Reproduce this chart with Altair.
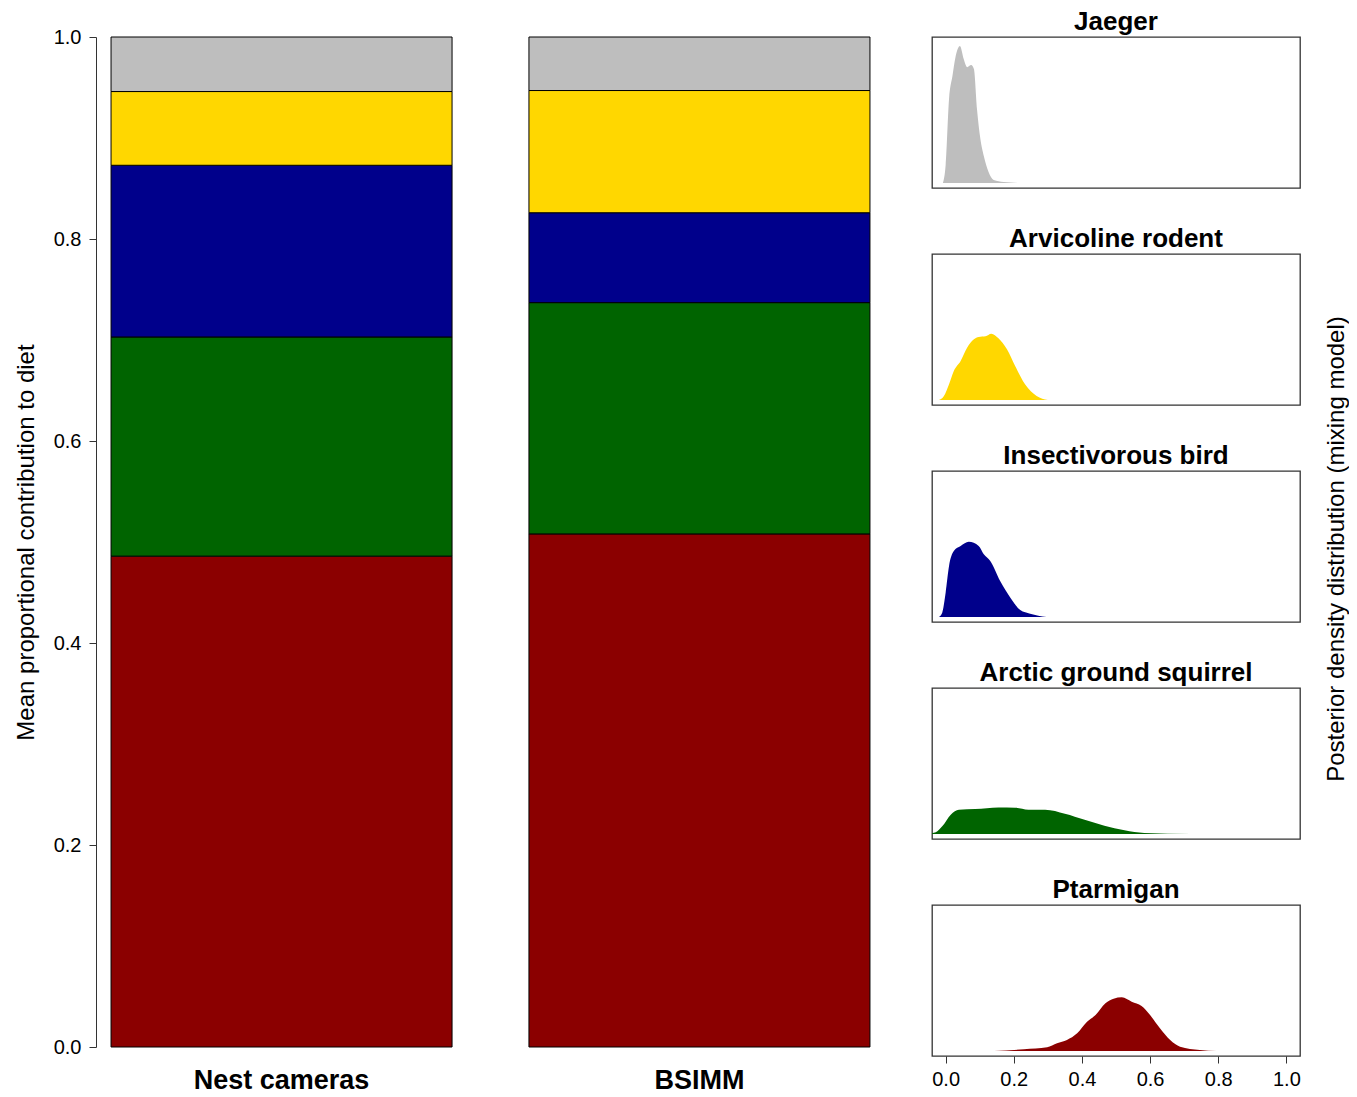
import altair as alt
import pandas as pd

# ---- stacked bars: mean proportional contribution to diet ----
sources = ["Nest cameras", "BSIMM"]
prey = ["Ptarmigan", "Arctic ground squirrel", "Insectivorous bird", "Arvicoline rodent", "Jaeger"]
prey_colors = ["#8B0000", "#006400", "#00008B", "#FFD700", "#BEBEBE"]
nest_cameras = [0.486, 0.217, 0.170, 0.073, 0.054]
bsimm = [0.508, 0.229, 0.089, 0.121, 0.053]

# ---- posterior densities (mixing model) ----
jaeger_x = [-0.008, 0.0, 0.01, 0.02, 0.029, 0.042, 0.053, 0.063, 0.075, 0.083, 0.092, 0.102, 0.112, 0.126, 0.141, 0.17, 0.22]
jaeger_d = [0, 1.43, 6.77, 8.63, 10.16, 11.05, 10.0, 9.35, 9.52, 9.19, 5.97, 3.55, 2.18, 0.89, 0.24, 0.08, 0]
arvic_x = [-0.02, -0.005, 0.01, 0.024, 0.044, 0.063, 0.083, 0.097, 0.117, 0.134, 0.155, 0.18, 0.204, 0.233, 0.267, 0.30]
arvic_d = [0, 0.32, 1.27, 2.34, 3.15, 4.22, 4.90, 5.08, 5.14, 5.35, 4.98, 4.09, 2.74, 1.27, 0.32, 0]
insect_x = [-0.02, -0.01, 0.0, 0.01, 0.024, 0.044, 0.068, 0.097, 0.112, 0.131, 0.16, 0.19, 0.219, 0.248, 0.296]
insect_d = [0, 0.35, 1.96, 4.11, 5.32, 5.73, 6.07, 5.73, 5.06, 4.52, 2.90, 1.56, 0.56, 0.27, 0]
squir_x = [-0.058, -0.029, -0.01, 0.015, 0.039, 0.087, 0.155, 0.204, 0.243, 0.292, 0.35, 0.408, 0.466, 0.525, 0.583, 0.72]
squir_d = [0, 0.14, 0.62, 1.56, 1.96, 2.02, 2.15, 2.12, 1.96, 1.96, 1.64, 1.15, 0.67, 0.30, 0.08, 0]
ptarm_x = [0.143, 0.23, 0.298, 0.327, 0.356, 0.386, 0.415, 0.44, 0.469, 0.493, 0.517, 0.546, 0.575, 0.6, 0.629, 0.659, 0.688, 0.746, 0.795]
ptarm_d = [0, 0.14, 0.30, 0.62, 0.89, 1.43, 2.36, 2.90, 3.85, 4.22, 4.33, 3.98, 3.63, 2.90, 1.83, 0.89, 0.35, 0.08, 0]

axis_ticks = [0.0, 0.2, 0.4, 0.6, 0.8, 1.0]
FONT = "Liberation Sans"

rows = []
for src, vals in zip(sources, [nest_cameras, bsimm]):
    for i, (p, v) in enumerate(zip(prey, vals)):
        rows.append({"source": src, "prey": p, "value": v, "rank": i})
bar_df = pd.DataFrame(rows)

bars = alt.Chart(bar_df).mark_bar(stroke="black", strokeWidth=1).encode(
    x=alt.X("source:N", sort=sources,
            scale=alt.Scale(paddingInner=0.184, paddingOuter=0.036),
            axis=alt.Axis(title=None, labelAngle=0, domain=False, ticks=False,
                          labelFontSize=27, labelFontWeight="bold", labelColor="black",
                          labelPadding=20)),
    y=alt.Y("value:Q", stack="zero",
            scale=alt.Scale(domain=[0, 1], nice=False),
            axis=alt.Axis(title="Mean proportional contribution to diet", values=axis_ticks,
                          format=".1f", grid=False, tickSize=7, tickColor="#333",
                          domainColor="#333", labelFontSize=20, labelColor="black",
                          labelPadding=8, titleFontSize=24, titleFontWeight="normal",
                          titleColor="black", titlePadding=15)),
    color=alt.Color("prey:N", scale=alt.Scale(domain=prey, range=prey_colors), legend=None),
    order=alt.Order("rank:Q"),
).properties(width=789, height=1010, view=alt.ViewBackground(stroke="transparent"))

panels = [
    ("Jaeger", jaeger_x, jaeger_d, "#BEBEBE"),
    ("Arvicoline rodent", arvic_x, arvic_d, "#FFD700"),
    ("Insectivorous bird", insect_x, insect_d, "#00008B"),
    ("Arctic ground squirrel", squir_x, squir_d, "#006400"),
    ("Ptarmigan", ptarm_x, ptarm_d, "#8B0000"),
]

dens_charts = []
for idx, (name, xs, ds, col) in enumerate(panels):
    df = pd.DataFrame({"x": xs, "d": ds})
    last = idx == len(panels) - 1
    if last:
        xaxis = alt.Axis(title=None, values=axis_ticks, format=".1f", grid=False, domain=False,
                         tickSize=7, tickColor="#333", labelFontSize=20, labelColor="black",
                         labelPadding=6)
    else:
        xaxis = None
    c = alt.Chart(df).mark_area(color=col, clip=True, interpolate="monotone").encode(
        x=alt.X("x:Q", scale=alt.Scale(domain=[-0.04, 1.04], nice=False, zero=False), axis=xaxis),
        y=alt.Y("d:Q", scale=alt.Scale(domain=[-0.4, 11.78], nice=False, zero=False), axis=None),
        y2=alt.datum(0),
    ).properties(
        width=368, height=151,
        title=alt.TitleParams(name, fontSize=26, fontWeight="bold", color="black", offset=2),
        view=alt.ViewBackground(stroke="#333", strokeWidth=1.3),
    )
    dens_charts.append(c)

right = alt.vconcat(*dens_charts, spacing=36).properties(
    title=alt.TitleParams("Posterior density distribution (mixing model)", orient="right",
                          anchor="middle", angle=270, fontSize=24, fontWeight="normal",
                          color="black", offset=0)
)

chart = alt.hconcat(bars, right, spacing=45).properties(
    padding={"left": 5, "top": 0, "right": 0, "bottom": 0}
).configure(font=FONT).configure_view(stroke="transparent")

chart.save("out.html", embed_options={"renderer": "svg", "actions": False})
